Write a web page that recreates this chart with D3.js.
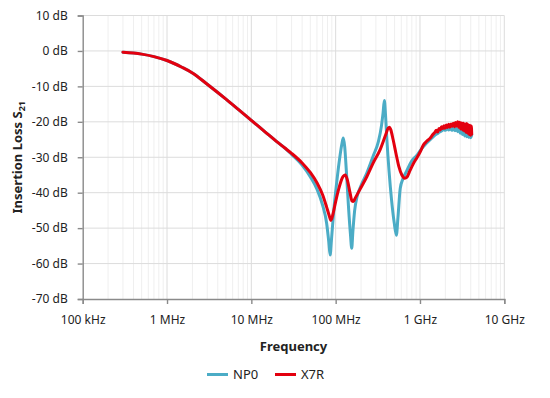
<!DOCTYPE html>
<html>
<head>
<meta charset="utf-8">
<script src="https://cdn.jsdelivr.net/npm/d3@7"></script>
<style>
  body { margin: 0; background: #fff; }
  text { font-family: 'Noto Sans', sans-serif; fill: #222; }
</style>
</head>
<body>
<div id="chart"></div>
<script>
// frequencies in MHz, levels in dB
const xTicks = [0.1, 1, 10, 100, 1000, 10000];
const xTickLabels = ['100 kHz', '1 MHz', '10 MHz', '100 MHz', '1 GHz', '10 GHz'];
const yTicks = [-70, -60, -50, -40, -30, -20, -10, 0, 10];

// shared low-frequency part (both curves overlap)
const lowFreq = [0.3, 0.4, 0.5, 0.7, 1, 1.5, 2, 3, 5, 7, 10, 15, 20, 25];
const lowDb   = [-0.35, -0.6, -0.9, -1.6, -2.7, -4.6, -6.2, -9.4, -13.6, -16.5, -19.6, -23.1, -25.6, -27.4];

const np0Freq = [30, 40, 50, 60, 70, 78, 83, 86, 89, 95, 103, 112, 118, 123, 128, 134, 142, 150, 155, 160, 168, 180, 200, 234, 280, 321, 350, 365, 378, 390, 405, 430, 460, 495, 525, 548, 583, 630, 692, 800, 916, 1000, 1200, 1350,
  1500, 1600, 1700, 1800, 1900, 2000, 2100, 2200, 2300, 2400, 2500, 2600, 2700, 2800, 2900, 3000, 3100, 3200, 3300, 3400, 3500, 3600, 3700, 3800, 3900, 4000, 4110];
const np0Db   = [-29.2, -32.2, -35.5, -39.0, -43.5, -48.5, -54.0, -57.6, -53.5, -45.0, -37.0, -30.0, -26.5, -24.6, -27.0, -34.0, -44.0, -52.0, -55.7, -51.0, -45.0, -41.0, -38.0, -34.5, -29.5, -25.6, -21.0, -17.5, -14.0, -18.0, -25.0, -34.0, -42.0, -48.5, -52.0, -47.0, -38.8, -36.0, -34.0, -31.0, -29.5, -28.2, -26.0, -24.8,
  -23.8, -23.4, -22.9, -22.6, -22.2, -22.4, -21.9, -22.3, -21.8, -22.4, -21.7, -22.5, -21.8, -22.8, -22.0, -23.2, -22.3, -23.6, -22.6, -24.0, -22.8, -24.2, -23.0, -24.4, -23.1, -24.5, -23.6];

const x7rFreq = [30, 40, 50, 60, 70, 78, 84, 88, 93, 100, 110, 120, 130, 138, 148, 156, 162, 170, 195, 234, 280, 336, 390, 420, 434, 450, 480, 520, 560, 610, 660, 700, 760, 830, 916, 1000, 1100, 1200, 1320, 1420,
  1500, 1560, 1620, 1680, 1740, 1800, 1860, 1920, 1980, 2050, 2120, 2190, 2260, 2330, 2400, 2480, 2560, 2640, 2720, 2800, 2880, 2960, 3040, 3120, 3200, 3280, 3360, 3440, 3520, 3600, 3680, 3760, 3840, 3920, 4000, 4060, 4110];
const x7rDb   = [-28.9, -31.6, -34.3, -37.2, -40.6, -44.0, -46.5, -47.8, -46.0, -42.5, -38.5, -35.8, -35.0, -36.5, -40.0, -42.3, -42.5, -41.6, -39.0, -35.5, -31.5, -27.9, -23.8, -21.8, -21.5, -22.2, -25.0, -29.0, -32.5, -35.0, -35.9, -35.6, -33.8, -31.9, -30.2, -28.6, -26.5, -25.5, -24.6, -23.6,
  -23.0, -22.4, -22.9, -21.9, -22.3, -21.4, -21.9, -21.1, -21.8, -20.9, -21.6, -20.7, -21.5, -20.6, -21.3, -20.4, -21.4, -20.2, -21.2, -20.0, -21.5, -20.1, -22.0, -20.3, -22.3, -20.4, -22.6, -20.6, -23.0, -20.5, -23.2, -20.8, -23.6, -21.0, -23.8, -21.2, -23.5];

const seriesNames = ['NP0', 'X7R'];
const seriesColors = ['#4bacc6', '#e3000f'];

const W = 550, H = 398;
const svg = d3.select('#chart').append('svg')
  .attr('width', W).attr('height', H);

const x = d3.scaleLog().domain([0.1, 10000]).range([82.7, 504.3]);
const y = d3.scaleLinear().domain([-70, 10]).range([299, 15.5]);

// minor vertical gridlines
const minor = [];
xTicks.slice(0, -1).forEach(d => { for (let k = 2; k <= 9; k++) minor.push(d * k); });
svg.append('g').selectAll('line').data(minor).join('line')
  .attr('x1', d => x(d)).attr('x2', d => x(d))
  .attr('y1', y(10)).attr('y2', y(-70))
  .attr('stroke', '#efefef').attr('stroke-width', 1);

// major gridlines
svg.append('g').selectAll('line').data(xTicks.slice(1)).join('line')
  .attr('x1', d => x(d)).attr('x2', d => x(d))
  .attr('y1', y(10)).attr('y2', y(-70))
  .attr('stroke', '#dcdcdc').attr('stroke-width', 1);
svg.append('g').selectAll('line').data(yTicks.slice(1)).join('line')
  .attr('x1', x(0.1)).attr('x2', x(10000))
  .attr('y1', d => y(d)).attr('y2', d => y(d))
  .attr('stroke', '#dcdcdc').attr('stroke-width', 1);

// axes
const yAxis = svg.append('g')
  .attr('transform', `translate(${x(0.1)},0)`)
  .call(d3.axisLeft(y).tickValues(yTicks).tickSize(5).tickPadding(10).tickFormat(d => `${d} dB`));
const xAxis = svg.append('g')
  .attr('transform', `translate(0,${y(-70)})`)
  .call(d3.axisBottom(x).tickValues(xTicks).tickSize(5).tickPadding(11).tickFormat((d, i) => xTickLabels[i]));
[yAxis, xAxis].forEach(g => {
  g.select('.domain').attr('stroke', '#8a8a8a').attr('stroke-width', 1.4);
  g.selectAll('.tick line').attr('stroke', '#8a8a8a').attr('stroke-width', 1.4);
  g.selectAll('.tick text').style('font-size', '12px').style('font-family', "'Noto Sans', sans-serif").attr('fill', '#222');
});

// curves
const line = d3.line()
  .x(d => x(d[0]))
  .y(d => y(d[1]))
  .curve(d3.curveMonotoneX);

const low = lowFreq.map((f, i) => [f, lowDb[i]]);
const seriesData = [
  low.concat(np0Freq.map((f, i) => [f, np0Db[i]])),
  low.concat(x7rFreq.map((f, i) => [f, x7rDb[i]]))
];
seriesData.forEach((pts, i) => {
  svg.append('path')
    .datum(pts)
    .attr('fill', 'none')
    .attr('stroke', seriesColors[i])
    .attr('stroke-width', 3)
    .attr('stroke-linejoin', 'round')
    .attr('stroke-linecap', 'round')
    .attr('d', line);
});

// axis titles
const yTitle = svg.append('text')
  .attr('transform', `translate(22,${(y(10) + y(-70)) / 2}) rotate(-90)`)
  .attr('text-anchor', 'middle')
  .style('font-size', '13px')
  .style('font-weight', 'bold');
yTitle.append('tspan').text('Insertion Loss S');
yTitle.append('tspan').attr('dy', 3).style('font-size', '9px').text('21');

svg.append('text')
  .attr('x', (x(0.1) + x(10000)) / 2)
  .attr('y', 351)
  .attr('text-anchor', 'middle')
  .style('font-size', '13px')
  .style('font-weight', 'bold')
  .text('Frequency');

// legend
const legendX = [207, 275];
seriesNames.forEach((name, i) => {
  const g = svg.append('g').attr('transform', `translate(${legendX[i]},374.5)`);
  g.append('line').attr('x1', 0).attr('x2', 21)
    .attr('stroke', seriesColors[i]).attr('stroke-width', 3);
  g.append('text').attr('x', 26).attr('y', 4.5)
    .style('font-size', '13px').text(name);
});
</script>
</body>
</html>
